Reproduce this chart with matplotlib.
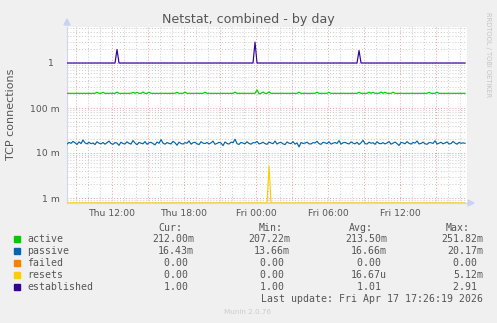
import matplotlib
matplotlib.use('Agg')
import matplotlib.pyplot as plt
import numpy as np
from matplotlib.patches import Rectangle, Polygon

W, H = 497, 323

# samples every 10 minutes, first sample at Thu 08:15 (hours relative to Fri 00:00)
start_hour = -15.75
step_hours = 10 / 60

# values in milli-connections (m)
active = [
    212, 212, 212, 212, 212, 212, 212, 212, 212, 212, 212, 212, 212, 212, 212, 224, 212, 212, 223, 212,
    212, 212, 212, 212, 212, 225, 212, 212, 212, 212, 212, 212, 212, 224, 212, 223, 212, 212, 226, 212,
    212, 224, 212, 212, 212, 212, 212, 212, 212, 212, 212, 212, 212, 212, 212, 223, 212, 212, 212, 225,
    212, 212, 212, 212, 212, 212, 212, 212, 212, 224, 212, 212, 212, 212, 212, 212, 212, 212, 212, 212,
    212, 212, 212, 212, 225, 212, 212, 212, 212, 212, 212, 212, 212, 212, 212, 251.8, 207.2, 212, 226, 212,
    212, 228, 212, 212, 212, 212, 212, 212, 212, 212, 212, 212, 212, 212, 212, 212, 224, 212, 212, 212,
    212, 212, 212, 212, 212, 224, 212, 212, 212, 212, 212, 223, 212, 212, 212, 212, 212, 212, 212, 212,
    212, 212, 212, 212, 212, 212, 224, 212, 212, 212, 212, 225, 212, 223, 212, 212, 212, 226, 212, 224,
    212, 212, 212, 224, 212, 212, 212, 212, 212, 212, 212, 212, 212, 212, 212, 212, 212, 212, 212, 212,
    212, 223, 212, 212, 212, 225, 212, 212, 212, 212, 212, 212, 212, 212, 212, 212, 212, 212, 212, 212,
]

passive = [
    15.8, 17.2, 16.4, 18.1, 16.9, 15.5, 17.6, 16.2, 19.4, 16.8, 15.9, 17.3, 16.1, 16.7, 15.4, 17.8, 16.5, 16.0, 17.1, 15.7,
    16.9, 18.4, 16.3, 15.6, 17.0, 16.6, 14.8, 17.4, 16.2, 15.9, 17.7, 16.4, 15.8, 18.9, 16.7, 15.3, 17.2, 16.5, 16.0, 17.9,
    15.6, 16.8, 17.3, 16.1, 15.2, 17.5, 16.4, 19.8, 16.6, 15.7, 17.1, 16.3, 15.9, 18.2, 16.8, 14.9, 17.4, 16.2, 15.8, 17.0,
    16.5, 18.6, 15.7, 16.9, 17.3, 16.0, 15.4, 17.8, 16.6, 16.2, 17.1, 15.9, 16.8, 18.3, 15.6, 16.4, 17.2, 16.7, 14.6, 17.6,
    16.3, 15.8, 17.4, 16.9, 20.2, 16.1, 15.5, 17.2, 16.6, 16.0, 17.7, 16.3, 15.7, 17.0, 16.8, 18.1, 15.9, 16.4, 17.3, 16.2,
    15.6, 17.5, 16.7, 16.1, 18.4, 15.8, 16.9, 17.2, 16.0, 15.4, 17.6, 16.5, 16.2, 17.9, 15.7, 16.8, 13.7, 17.1, 16.3, 16.6,
    17.4, 16.0, 15.9, 17.0, 16.7, 18.2, 16.1, 15.6, 17.3, 16.8, 16.2, 17.7, 15.8, 16.5, 17.1, 16.3, 18.8, 15.7, 16.9, 17.2,
    16.4, 15.9, 17.6, 16.6, 16.0, 17.3, 15.5, 16.8, 19.1, 16.2, 15.8, 17.4, 16.5, 16.9, 15.6, 17.8, 16.3, 16.1, 17.0, 15.9,
    16.7, 18.0, 15.7, 16.6, 17.5, 16.2, 14.7, 17.2, 16.8, 16.0, 17.9, 16.4, 15.8, 17.1, 16.6, 18.5, 15.9, 16.3, 17.4, 16.1,
    15.6, 17.0, 16.9, 16.3, 18.7, 15.8, 16.5, 17.3, 16.0, 16.7, 17.6, 15.9, 16.2, 18.1, 16.6, 15.7, 17.2, 16.4, 16.8, 16.43,
]

failed = [
    0, 0, 0, 0, 0, 0, 0, 0, 0, 0, 0, 0, 0, 0, 0, 0, 0, 0, 0, 0,
    0, 0, 0, 0, 0, 0, 0, 0, 0, 0, 0, 0, 0, 0, 0, 0, 0, 0, 0, 0,
    0, 0, 0, 0, 0, 0, 0, 0, 0, 0, 0, 0, 0, 0, 0, 0, 0, 0, 0, 0,
    0, 0, 0, 0, 0, 0, 0, 0, 0, 0, 0, 0, 0, 0, 0, 0, 0, 0, 0, 0,
    0, 0, 0, 0, 0, 0, 0, 0, 0, 0, 0, 0, 0, 0, 0, 0, 0, 0, 0, 0,
    0, 0, 0, 0, 0, 0, 0, 0, 0, 0, 0, 0, 0, 0, 0, 0, 0, 0, 0, 0,
    0, 0, 0, 0, 0, 0, 0, 0, 0, 0, 0, 0, 0, 0, 0, 0, 0, 0, 0, 0,
    0, 0, 0, 0, 0, 0, 0, 0, 0, 0, 0, 0, 0, 0, 0, 0, 0, 0, 0, 0,
    0, 0, 0, 0, 0, 0, 0, 0, 0, 0, 0, 0, 0, 0, 0, 0, 0, 0, 0, 0,
    0, 0, 0, 0, 0, 0, 0, 0, 0, 0, 0, 0, 0, 0, 0, 0, 0, 0, 0, 0,
]

resets = [
    0, 0, 0, 0, 0, 0, 0, 0, 0, 0, 0, 0, 0, 0, 0, 0, 0, 0, 0, 0,
    0, 0, 0, 0, 0, 0, 0, 0, 0, 0, 0, 0, 0, 0, 0, 0, 0, 0, 0, 0,
    0, 0, 0, 0, 0, 0, 0, 0, 0, 0, 0, 0, 0, 0, 0, 0, 0, 0, 0, 0,
    0, 0, 0, 0, 0, 0, 0, 0, 0, 0, 0, 0, 0, 0, 0, 0, 0, 0, 0, 0,
    0, 0, 0, 0, 0, 0, 0, 0, 0, 0, 0, 0, 0, 0, 0, 0, 0, 0, 0, 0,
    0, 5.12, 0, 0, 0, 0, 0, 0, 0, 0, 0, 0, 0, 0, 0, 0, 0, 0, 0, 0,
    0, 0, 0, 0, 0, 0, 0, 0, 0, 0, 0, 0, 0, 0, 0, 0, 0, 0, 0, 0,
    0, 0, 0, 0, 0, 0, 0, 0, 0, 0, 0, 0, 0, 0, 0, 0, 0, 0, 0, 0,
    0, 0, 0, 0, 0, 0, 0, 0, 0, 0, 0, 0, 0, 0, 0, 0, 0, 0, 0, 0,
    0, 0, 0, 0, 0, 0, 0, 0, 0, 0, 0, 0, 0, 0, 0, 0, 0, 0, 0, 0,
]

# plain connection counts
established = [
    1, 1, 1, 1, 1, 1, 1, 1, 1, 1, 1, 1, 1, 1, 1, 1, 1, 1, 1, 1,
    1, 1, 1, 1, 1, 2.0, 1, 1, 1, 1, 1, 1, 1, 1, 1, 1, 1, 1, 1, 1,
    1, 1, 1, 1, 1, 1, 1, 1, 1, 1, 1, 1, 1, 1, 1, 1, 1, 1, 1, 1,
    1, 1, 1, 1, 1, 1, 1, 1, 1, 1, 1, 1, 1, 1, 1, 1, 1, 1, 1, 1,
    1, 1, 1, 1, 1, 1, 1, 1, 1, 1, 1, 1, 1, 1, 2.91, 1, 1, 1, 1, 1,
    1, 1, 1, 1, 1, 1, 1, 1, 1, 1, 1, 1, 1, 1, 1, 1, 1, 1, 1, 1,
    1, 1, 1, 1, 1, 1, 1, 1, 1, 1, 1, 1, 1, 1, 1, 1, 1, 1, 1, 1,
    1, 1, 1, 1, 1, 1, 1.9, 1, 1, 1, 1, 1, 1, 1, 1, 1, 1, 1, 1, 1,
    1, 1, 1, 1, 1, 1, 1, 1, 1, 1, 1, 1, 1, 1, 1, 1, 1, 1, 1, 1,
    1, 1, 1, 1, 1, 1, 1, 1, 1, 1, 1, 1, 1, 1, 1, 1, 1, 1, 1, 1,
]

series_names = ['active', 'passive', 'failed', 'resets', 'established']
series_colors = ['#00cc00', '#0066b3', '#ff8000', '#ffcc00', '#330099']
cur_vals = ['212.00m', '16.43m', '0.00 ', '0.00 ', '1.00 ']
min_vals = ['207.22m', '13.66m', '0.00 ', '0.00 ', '1.00 ']
avg_vals = ['213.50m', '16.66m', '0.00 ', '16.67u', '1.01 ']
max_vals = ['251.82m', '20.17m', '0.00 ', '5.12m', '2.91 ']

x_tick_hours = [-12, -6, 0, 6, 12]
x_tick_labels = ['Thu 12:00', 'Thu 18:00', 'Fri 00:00', 'Fri 06:00', 'Fri 12:00']
y_ticks = [1e-3, 1e-2, 1e-1, 1]
y_tick_labels = ['1 m', '10 m', '100 m', '1  ']

title = 'Netstat, combined - by day'
last_update = 'Last update: Fri Apr 17 17:26:19 2026'

TXT = '#555555'
MONO = 'DejaVu Sans Mono'


def fx(px):
    return px / W


def fy(py):
    return 1 - py / H


def main():
    fig = plt.figure(figsize=(W / 100, H / 100), dpi=100, facecolor='#f0f0f0')
    ax = fig.add_axes([fx(67), fy(203), fx(467) - fx(67), fy(27) - fy(203)])
    ax.set_facecolor('white')

    n = len(active)
    t = start_hour + step_hours * np.arange(n)
    ymin, ymax = 10 ** (-3 - 5 / 45), 10 ** 0.8
    ax.set_yscale('log')
    ax.set_xlim(-15.75, 17.58)
    ax.set_ylim(ymin, ymax)

    # grid: hourly minor / 3-hourly major, decade major / 2..9 minor
    for h in range(-15, 18):
        if h % 3 == 0:
            ax.axvline(h, color='#f2a0a0', lw=0.7, ls=(0, (1, 2)), zorder=1)
        else:
            ax.axvline(h, color='#cccccc', lw=0.7, ls=(0, (1, 2)), zorder=1)
    for d in range(-4, 1):
        for k in range(1, 10):
            v = k * 10.0 ** d
            if v < ymin or v > ymax:
                continue
            if k == 1:
                ax.axhline(v, color='#f2a0a0', lw=0.7, ls=(0, (1, 2)), zorder=1)
            else:
                ax.axhline(v, color='#cccccc', lw=0.7, ls=(0, (1, 2)), zorder=1)

    scale = [1e-3, 1e-3, 1e-3, 1e-3, 1.0]
    data = [active, passive, failed, resets, established]
    order = [2, 3, 0, 1, 4]
    for i in order:
        y = np.array(data[i], dtype=float) * scale[i]
        y = np.maximum(y, ymin)
        ax.plot(t, y, color=series_colors[i], lw=0.85, zorder=3)

    for s in ['top', 'right']:
        ax.spines[s].set_visible(False)
    ax.spines['left'].set_color('#d0d8f0')
    ax.spines['bottom'].set_color('#d0d8f0')
    ax.spines['left'].set_zorder(2)

    ax.set_xticks(x_tick_hours)
    ax.set_xticklabels(x_tick_labels)
    ax.set_yticks(y_ticks)
    ax.set_yticklabels(y_tick_labels)
    ax.yaxis.set_minor_locator(matplotlib.ticker.NullLocator())
    ax.tick_params(axis='both', length=0, labelsize=6.7, labelcolor=TXT)
    ax.tick_params(axis='x', pad=4)
    ax.tick_params(axis='y', pad=5)

    # axis arrows
    fig.add_artist(Polygon([[fx(64), fy(25)], [fx(70), fy(25)], [fx(67), fy(19)]],
                           closed=True, transform=fig.transFigure, color='#c8d2f4'))
    fig.add_artist(Polygon([[fx(468), fy(200)], [fx(468), fy(206)], [fx(474), fy(203)]],
                           closed=True, transform=fig.transFigure, color='#c8d2f4'))

    fig.text(fx(248), fy(19), title, ha='center', va='center', fontsize=9.1, color=TXT)
    fig.text(fx(11), fy(114), 'TCP connections', rotation=90, ha='center', va='center',
             fontsize=8.0, color=TXT)
    fig.text(fx(488), fy(55), 'RRDTOOL / TOBI OETIKER', rotation=270, ha='center', va='center',
             fontsize=4.8, color='#c4c4c4')

    # legend block
    fig.text(fx(182), fy(228), 'Cur:', ha='right', va='center', fontsize=7.1, family=MONO, color=TXT)
    fig.text(fx(283), fy(228), 'Min:', ha='right', va='center', fontsize=7.1, family=MONO, color=TXT)
    fig.text(fx(373), fy(228), 'Avg:', ha='right', va='center', fontsize=7.1, family=MONO, color=TXT)
    fig.text(fx(470), fy(228), 'Max:', ha='right', va='center', fontsize=7.1, family=MONO, color=TXT)
    for i, name in enumerate(series_names):
        yy = 239.3 + 12 * i
        fig.add_artist(Rectangle((fx(14), fy(yy + 3)), fx(6), 6 / H, transform=fig.transFigure,
                                 color=series_colors[i]))
        fig.text(fx(27), fy(yy), name, ha='left', va='center', fontsize=7.1, family=MONO, color=TXT)
        for col, xr in zip([cur_vals, min_vals, avg_vals, max_vals], [194, 290, 387, 483]):
            fig.text(fx(xr), fy(yy), col[i], ha='right', va='center', fontsize=7.1,
                     family=MONO, color=TXT)
    fig.text(fx(483), fy(299), last_update, ha='right', va='center', fontsize=7.1,
             family=MONO, color=TXT)
    fig.text(fx(248), fy(312.5), 'Munin 2.0.76', ha='center', va='center', fontsize=5.2,
             color='#cccccc')

    fig.savefig('out.png', dpi=100, facecolor=fig.get_facecolor())


if __name__ == '__main__':
    main()
